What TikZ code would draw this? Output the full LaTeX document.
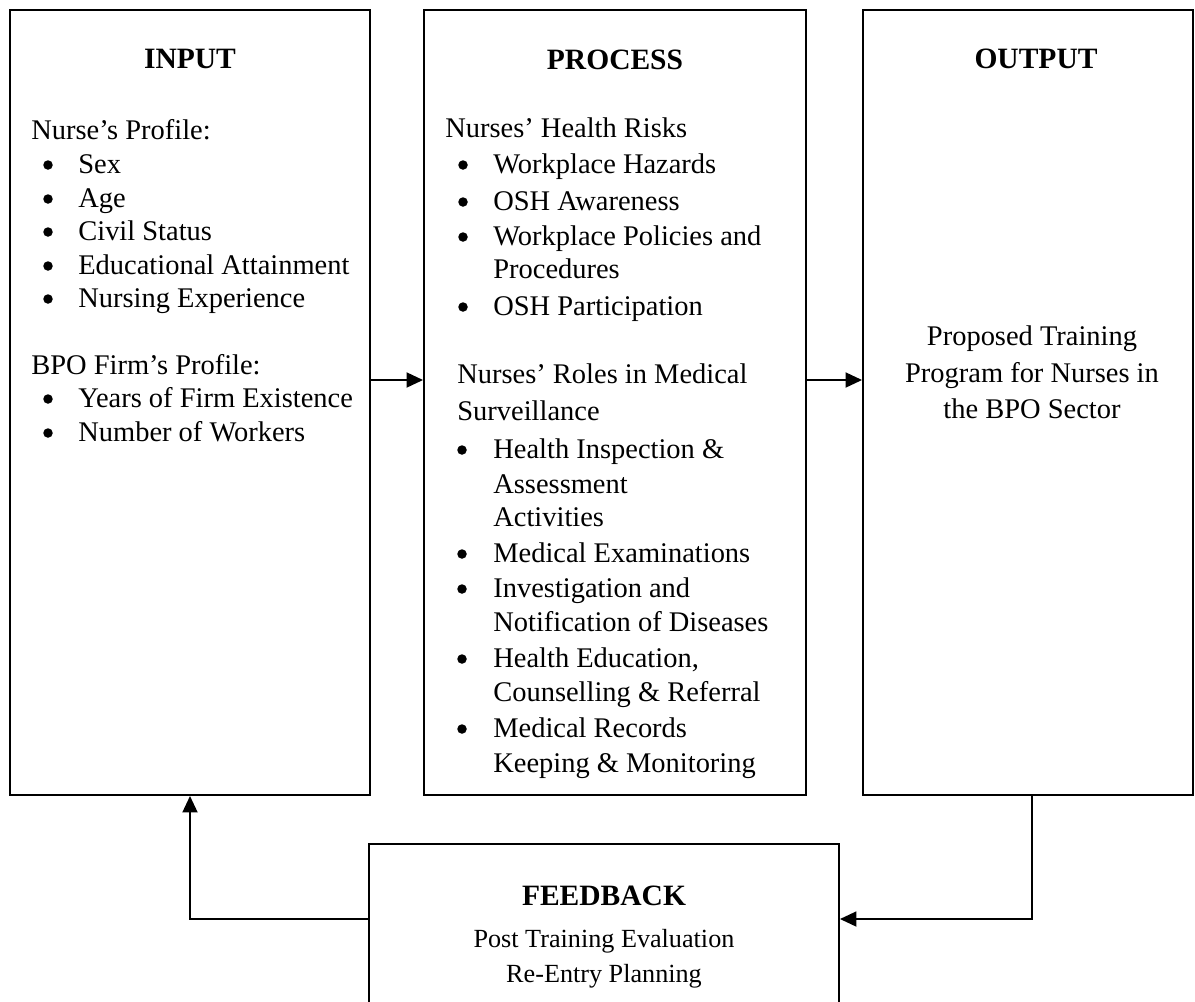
\documentclass[tikz,border=0pt]{standalone}
\usepackage{fontspec}
\setmainfont{Liberation Serif}
\usetikzlibrary{arrows.meta,fit}
\begin{document}
\begin{tikzpicture}[x=0.02cm,y=-0.02cm,
  box/.style={draw,line width=1.1pt,inner sep=0pt},
  head/.style={anchor=base,inner sep=0pt,font=\fontsize{16.8}{19}\selectfont\bfseries},
  txt/.style={anchor=base west,inner sep=0pt,font=\fontsize{16.2}{19}\selectfont},
  ctxt/.style={anchor=base,inner sep=0pt,font=\fontsize{16.2}{19}\selectfont},
  ftxt/.style={anchor=base,inner sep=0pt,font=\fontsize{14.9}{18}\selectfont},
  bul/.style={circle,fill,inner sep=0pt,minimum size=0.19cm},
  arr/.style={line width=1.1pt,-{Triangle[length=0.33cm,width=0.3cm]}}]
\useasboundingbox (0,0) rectangle (1195,1001);
\clip (0,0) rectangle (1195,1001);
% boxes
\node (input) [box,fit={(10,10) (370,795)}] {};
\node (process) [box,fit={(424,10) (806,795)}] {};
\node (output) [box,fit={(863,10) (1193,795)}] {};
\node (feedback) [box,fit={(369,844) (839,1030)}] {};
% INPUT text
\node (hin) [head] at (190,68) {INPUT};
\node (np) [txt] at (31,139) {Nurse’s Profile:};
\foreach \y/\t [count=\i] in {173/Sex,207/Age,240/Civil Status,274/Educational Attainment,307/Nursing Experience}{
  \node (inb\i) [bul] at (48,\y-8) {};
  \node (ini\i) [txt] at (78,\y) {\t};
}
\node (bp) [txt] at (31,374) {BPO Firm’s Profile:};
\foreach \y/\t [count=\i] in {407/Years of Firm Existence,441/Number of Workers}{
  \node (fb\i) [bul] at (48,\y-8) {};
  \node (fi\i) [txt] at (78,\y) {\t};
}
% PROCESS text
\node (hpr) [head] at (615,69) {PROCESS};
\node (nhr) [txt] at (445,137) {Nurses’ Health Risks};
\foreach \y [count=\i] in {173,210,245,315}{
  \node (pb\i) [bul] at (463,\y-8) {};
}
\node (p1) [txt] at (493,173) {Workplace Hazards};
\node (p2) [txt] at (493,210) {OSH Awareness};
\node (p3) [txt] at (493,245) {Workplace Policies and};
\node (p4) [txt] at (493,278) {Procedures};
\node (p5) [txt] at (493,315) {OSH Participation};
\node (nr1) [txt] at (457,383) {Nurses’ Roles in Medical};
\node (nr2) [txt] at (457,420) {Surveillance};
\foreach \y [count=\i] in {458,562,597,667,737}{
  \node (rb\i) [bul] at (462,\y-8) {};
}
\node (r1) [txt] at (493,458) {Health Inspection \&};
\node (r2) [txt] at (493,493) {Assessment};
\node (r3) [txt] at (493,526) {Activities};
\node (r4) [txt] at (493,562) {Medical Examinations};
\node (r5) [txt] at (493,597) {Investigation and};
\node (r6) [txt] at (493,631) {Notification of Diseases};
\node (r7) [txt] at (493,667) {Health Education,};
\node (r8) [txt] at (493,701) {Counselling \& Referral};
\node (r9) [txt] at (493,737) {Medical Records};
\node (r10) [txt] at (493,772) {Keeping \& Monitoring};
% OUTPUT text
\node (hout) [head] at (1036,68) {OUTPUT};
\node (o1) [ctxt] at (1032,345) {Proposed Training};
\node (o2) [ctxt] at (1032,382) {Program for Nurses in};
\node (o3) [ctxt] at (1032,418) {the BPO Sector};
% FEEDBACK text
\node (hfb) [head] at (604,905) {FEEDBACK};
\node (f1) [ftxt] at (604,947) {Post Training Evaluation};
\node (f2) [ftxt] at (604,982) {Re-Entry Planning};
% connectors
\coordinate (arow) at (0,380);
\coordinate (frow) at (0,919);
\coordinate (ocol) at (1032,0);
\draw[arr] (input.east |- arow) -- (process.west |- arow);
\draw[arr] (process.east |- arow) -- (output.west |- arow);
\draw[arr] (output.south -| ocol) |- (feedback.east |- frow);
\draw[arr] (feedback.west |- frow) -| (input.south);
\end{tikzpicture}
\end{document}
